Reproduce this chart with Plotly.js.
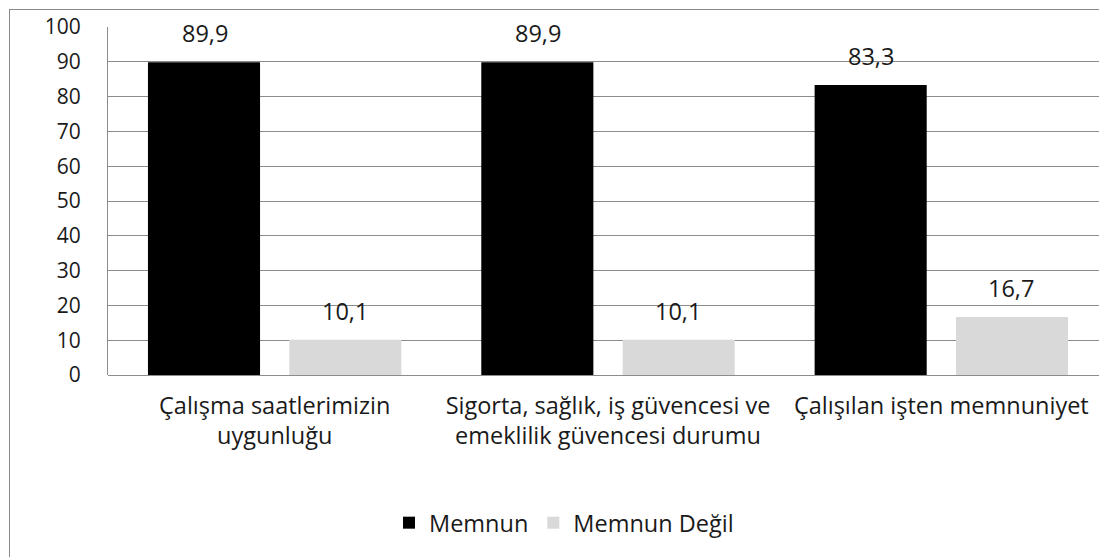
<!DOCTYPE html>
<html>
<head>
<meta charset="utf-8">
<script src="https://cdn.plot.ly/plotly-3.0.1.min.js"></script>
<style>
html,body{margin:0;padding:0;overflow:hidden;background:#fff;width:1099px;height:557px;}
#frame{position:absolute;left:9px;top:9px;width:1200px;height:600px;border:1px solid #8a8a8a;box-sizing:border-box;pointer-events:none;z-index:5;}
#chart{position:absolute;left:0;top:0;}
</style>
</head>
<body>
<div id="chart"></div>
<div id="frame"></div>
<script>
const categories = ["Çalışma saatlerimizin<br>uygunluğu", "Sigorta, sağlık, iş güvencesi ve<br>emeklilik güvencesi durumu", "Çalışılan işten memnuniyet"];
const seriesNames = ["Memnun", "Memnun Değil"];
const memnun = [89.9, 89.9, 83.3];
const memnunDegil = [10.1, 10.1, 16.7];
const yTicks = [0, 10, 20, 30, 40, 50, 60, 70, 80, 90, 100];

const FONT = "'Open Sans', Lato, sans-serif";
const TXT = "#1a1a1a";

const traces = [
  {type: "bar", name: seriesNames[0], x: categories, y: memnun, marker: {color: "#000000"}, hoverinfo: "none"},
  {type: "bar", name: seriesNames[1], x: categories, y: memnunDegil, marker: {color: "#d9d9d9"}, hoverinfo: "none"}
];

const fmt = v => v.toFixed(1).replace(".", ",");
const annotations = [];
[memnun, memnunDegil].forEach((arr, si) => {
  arr.forEach((v, i) => {
    annotations.push({
      x: categories[i], y: v, xref: "x", yref: "y",
      text: fmt(v), showarrow: false,
      xshift: si === 0 ? -70 : 70, yshift: 11, yanchor: "bottom",
      font: {family: FONT, size: 23.5, color: TXT}
    });
  });
});

const layout = {
  width: 1120, height: 557,
  margin: {l: 108, r: 12, t: 27, b: 182},
  paper_bgcolor: "#fff", plot_bgcolor: "#fff",
  barmode: "group", bargap: 0.152, bargroupgap: 0.207,
  font: {family: FONT, size: 23.5, color: TXT},
  showlegend: true,
  legend: {orientation: "h", x: 0.456, xanchor: "center", y: -0.425, yanchor: "middle",
           font: {family: FONT, size: 23.5, color: TXT}, itemwidth: 30, traceorder: "normal"},
  xaxis: {type: "category", showgrid: false, zeroline: false, showline: false, ticks: "",
          ticklabelstandoff: 14, tickfont: {family: FONT, size: 23.5, color: TXT}, fixedrange: true},
  yaxis: {range: [0, 100], tickvals: yTicks, ticktext: yTicks.map(String), showgrid: true, gridcolor: "#8c8c8c", gridwidth: 1,
          zeroline: true, zerolinecolor: "#8c8c8c", zerolinewidth: 1,
          showline: true, linecolor: "#8c8c8c", linewidth: 1, ticks: "", ticklabelstandoff: 22,
          tickfont: {family: FONT, size: 21, color: TXT}, fixedrange: true},
  annotations: annotations
};

Plotly.newPlot("chart", traces, layout, {displayModeBar: false, staticPlot: true});
</script>
</body>
</html>
